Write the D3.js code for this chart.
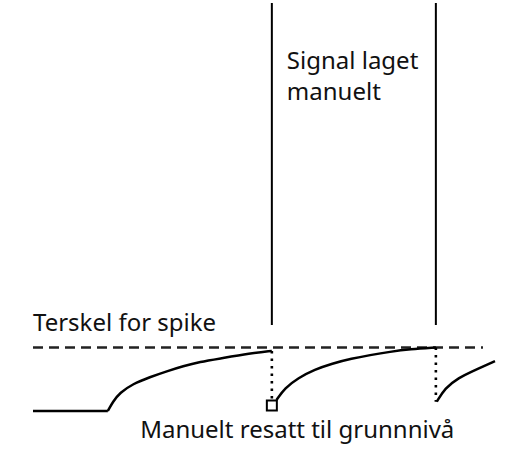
<!DOCTYPE html>
<html>
<head>
<meta charset="utf-8">
<script src="https://cdn.jsdelivr.net/npm/d3@7"></script>
<style>
  html, body { margin: 0; padding: 0; background: #fff; }
  svg { display: block; }
  text { font-family: "Noto Sans", "Open Sans", sans-serif; fill: #111; }
</style>
</head>
<body>
<svg id="chart" width="513" height="451"></svg>
<script>
// ---- data (time in ms, membrane potential in mV) ----
const restPotential = -70;
const thresholdPotential = -55;
const thresholdEnd = 97.4;

const baselineSegment = [[0, -70], [16.2, -70]];
const riseSegment1 = [[16.2, -70], [17.3, -67.8], [18.8, -65.7], [21.6, -63.6], [25.3, -62.0],
                      [29.0, -60.6], [32.5, -59.4], [36.1, -58.4], [40.5, -57.6], [47.0, -56.4], [51.7, -55.8]];
const riseSegment2 = [[52.7, -67.4], [54.5, -64.6], [57.4, -62.2], [61.0, -60.2], [64.7, -58.8],
                      [69.0, -57.6], [72.9, -56.8], [77.3, -56.0], [81.6, -55.4], [87.2, -55.0]];
const riseSegment3 = [[87.4, -67.8], [89.2, -64.6], [92.0, -62.2], [95.7, -60.3], [100, -58.2]];

const spikeTimes = [51.7, 87.2];
const spikeRange = [-49.7, 26.4];
const resets = [
  { t: 51.7, from: -55.8, to: -68.7, marker: true },
  { t: 87.2, from: -55.0, to: -67.8, marker: false }
];

const labels = [
  { text: "Terskel for spike", t: 0, v: -51.2 },
  { text: "Manuelt resatt til grunnnivå", t: 23.2, v: -76.3 }
];
const spikeLabelLines = ["Signal laget", "manuelt"];

// ---- scales ----
const svg = d3.select("#chart");
const x = d3.scaleLinear().domain([0, 100]).range([33, 495]);
const y = d3.scaleLinear().domain([restPotential, thresholdPotential]).range([411, 347.5]);

const line = d3.line().x(d => x(d[0])).y(d => y(d[1])).curve(d3.curveBasis);

// threshold
svg.append("line")
  .attr("x1", x(0)).attr("x2", x(thresholdEnd))
  .attr("y1", y(thresholdPotential)).attr("y2", y(thresholdPotential))
  .attr("stroke", "#222").attr("stroke-width", 2.4).attr("stroke-dasharray", "10,6");

// membrane potential
[baselineSegment, riseSegment1, riseSegment2, riseSegment3].forEach(seg => {
  svg.append("path").datum(seg).attr("d", line)
    .attr("fill", "none").attr("stroke", "#000").attr("stroke-width", 2.5);
});

// spikes
svg.selectAll("line.spike").data(spikeTimes).enter().append("line")
  .attr("class", "spike")
  .attr("x1", d => x(d)).attr("x2", d => x(d))
  .attr("y1", y(spikeRange[1])).attr("y2", y(spikeRange[0]))
  .attr("stroke", "#000").attr("stroke-width", 2);

// resets
resets.forEach(r => {
  svg.append("line")
    .attr("x1", x(r.t)).attr("x2", x(r.t))
    .attr("y1", y(r.from)).attr("y2", y(r.to))
    .attr("stroke", "#000").attr("stroke-width", 2.6).attr("stroke-dasharray", "2.5,5");
  if (r.marker) {
    svg.append("rect")
      .attr("x", x(r.t) - 5).attr("y", y(r.to) - 5)
      .attr("width", 10).attr("height", 10)
      .attr("fill", "#fff").attr("stroke", "#000").attr("stroke-width", 2);
  }
});

// labels
labels.forEach(l => {
  svg.append("text").attr("x", x(l.t)).attr("y", y(l.v))
    .style("font-size", "24px").text(l.text);
});
const sl = svg.append("text").attr("x", x(spikeTimes[0]) + 15).attr("y", 69)
  .style("font-size", "24px");
spikeLabelLines.forEach((s, i) => {
  sl.append("tspan").attr("x", x(spikeTimes[0]) + 15).attr("dy", i === 0 ? 0 : 31).text(s);
});
</script>
</body>
</html>
